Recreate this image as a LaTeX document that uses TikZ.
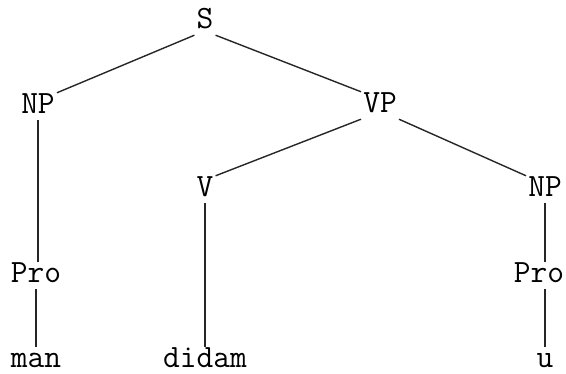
\documentclass[tikz,border=0pt]{standalone}
\usepackage{fontspec}
\begin{document}
\begin{tikzpicture}[x=1pt,y=1pt,
  cat/.style={anchor=base,font=\ttfamily\fontsize{32.5}{32.5}\selectfont,
    text height=19pt,text depth=4pt,inner sep=2pt},
  branch/.style={line width=1.4pt,black!85}]
\useasboundingbox (0,0) rectangle (566,374);
% categories, placed on their baselines
\node[cat] (S)     at (205,345) {S};
\node[cat] (NPa)   at (38,260)  {NP};
\node[cat] (VP)    at (380,261) {VP};
\node[cat] (V)     at (205,177) {V};
\node[cat] (NPb)   at (545,177) {NP};
\node[cat] (ProA)  at (36,91)   {Pro};
\node[cat] (ProB)  at (539,91)  {Pro};
% words
\node[cat] (man)   at (36,6)    {man};
\node[cat] (didam) at (205,6)   {didam};
\node[cat] (u)     at (545,6)   {u};
% branches
\draw[branch] (S.south west)   -- (NPa.north east);
\draw[branch] (S.south east)   -- (VP.north west);
\draw[branch] (VP.south west)  -- (V.north east);
\draw[branch] (VP.south east)  -- (NPb.north west);
\draw[branch] (NPa.south)      -- (NPa.south |- ProA.north);
\draw[branch] (ProA.south)     -- (ProA.south |- man.north);
\draw[branch] (V.south)        -- (V.south |- didam.north);
\draw[branch] (NPb.south)      -- (NPb.south |- ProB.north);
\draw[branch] (ProB.south -| u) -- (u.north);
\end{tikzpicture}
\end{document}
